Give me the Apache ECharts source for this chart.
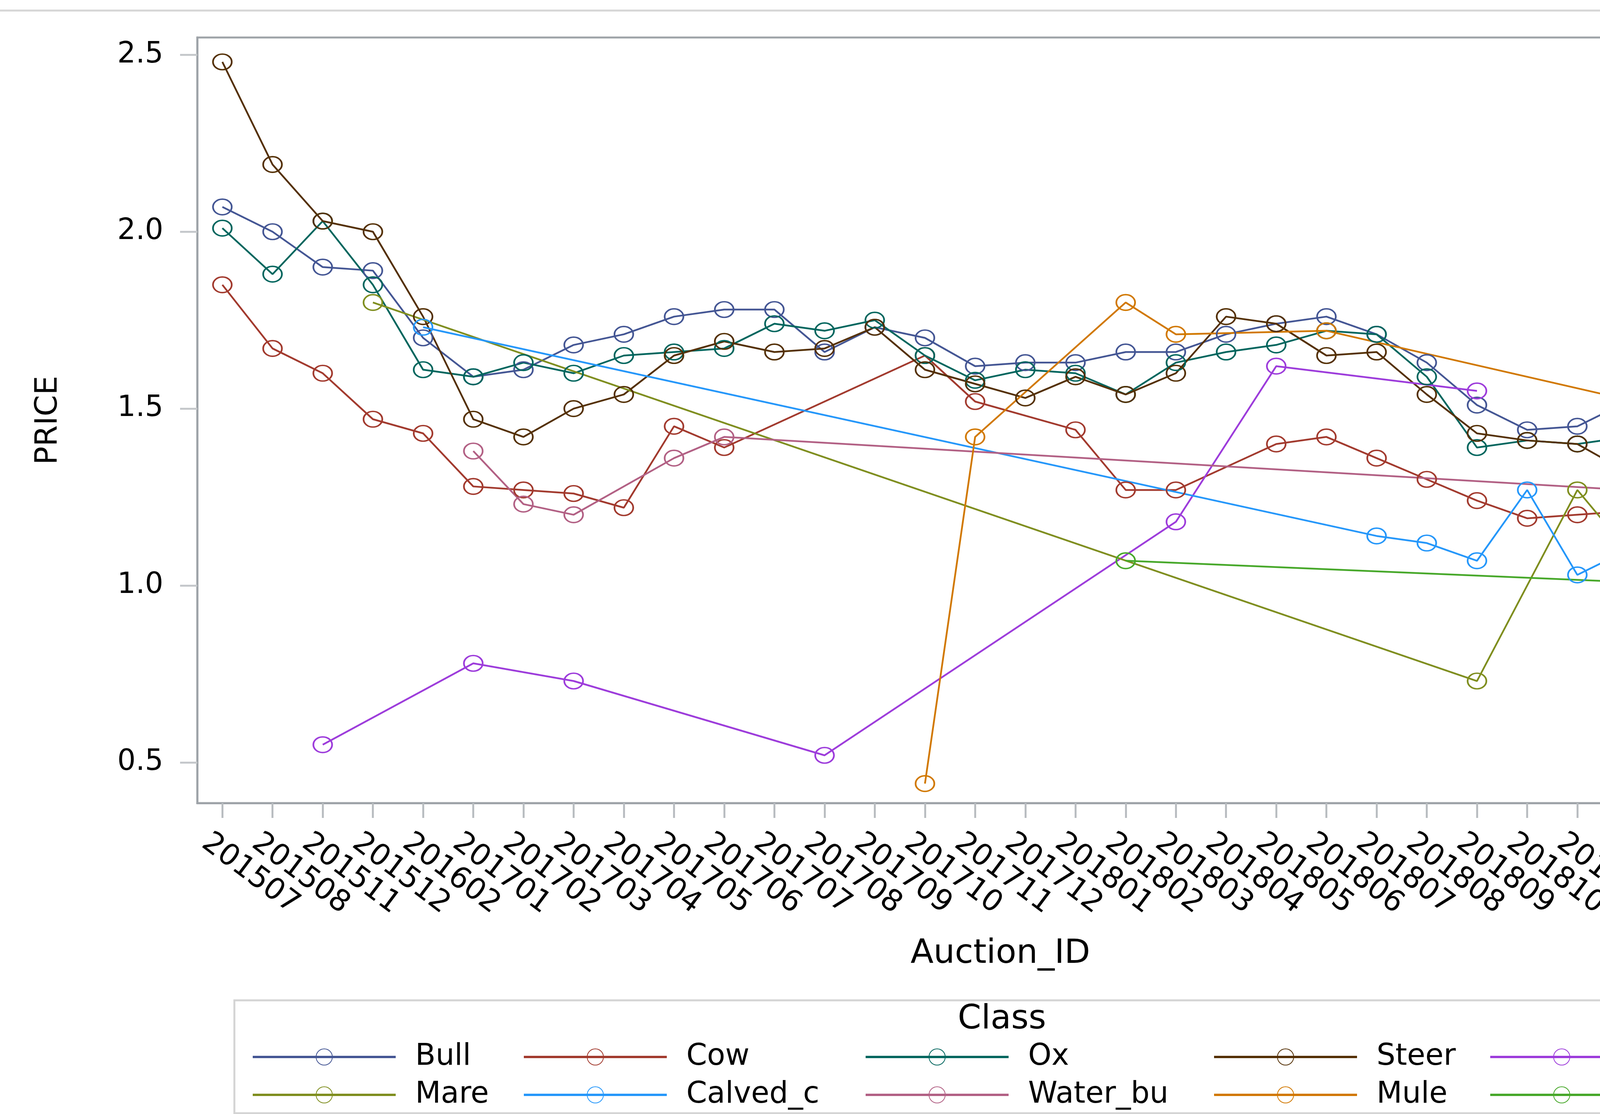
<!DOCTYPE html>
<html>
<head>
<meta charset="utf-8">
<script src="https://cdn.jsdelivr.net/npm/echarts@6/dist/echarts.min.js"></script>
<style>
html,body{margin:0;padding:0;background:#fff;}
#c{width:4786px;height:2852px;}
</style>
</head>
<body>
<div id="c"></div>
<script>
const categories = ['201507','201508','201511','201512','201602','201701','201702','201703','201704','201705','201706','201707','201708','201709','201710','201711','201712','201801','201802','201803','201804','201805','201806','201807','201808','201809','201810','201811','201812','201901','201902','201903'];

const bull = [2.07,2.00,1.90,1.89,1.70,1.59,1.61,1.68,1.71,1.76,1.78,1.78,1.66,1.73,1.70,1.62,1.63,1.63,1.66,1.66,1.71,1.74,1.76,1.71,1.63,1.51,1.44,1.45,1.52,1.47,1.43,1.46];
const cow = [1.85,1.67,1.60,1.47,1.43,1.28,1.27,1.26,1.22,1.45,1.39,null,null,null,1.65,1.52,null,1.44,1.27,1.27,null,1.40,1.42,1.36,1.30,1.24,1.19,1.20,1.21,1.11,1.15,1.12];
const ox = [2.01,1.88,2.03,1.85,1.61,1.59,1.63,1.60,1.65,1.66,1.67,1.74,1.72,1.75,1.65,1.58,1.61,1.60,1.54,1.63,1.66,1.68,1.72,1.71,1.59,1.39,1.41,1.40,1.42,1.38,1.41,1.43];
const steer = [2.48,2.19,2.03,2.00,1.76,1.47,1.42,1.50,1.54,1.65,1.69,1.66,1.67,1.73,1.61,1.57,1.53,1.59,1.54,1.60,1.76,1.74,1.65,1.66,1.54,1.43,1.41,1.40,1.32,1.38,1.35,1.29];
const horse = [null,null,0.55,null,null,0.78,null,0.73,null,null,null,null,0.52,null,null,null,null,null,null,1.18,null,1.62,null,null,null,1.55,null,null,null,null,null,null];
const mare = [null,null,null,1.80,null,null,null,null,null,null,null,null,null,null,null,null,null,null,null,null,null,null,null,null,null,0.73,null,1.27,null,0.93,1.35,null];
const calved = [null,null,null,null,1.73,null,null,null,null,null,null,null,null,null,null,null,null,null,null,null,null,null,null,1.14,1.12,1.07,1.27,1.03,1.10,1.02,1.00,1.10];
const waterBu = [null,null,null,null,null,1.38,1.23,1.20,null,1.36,1.42,null,null,null,null,null,null,null,null,null,null,null,null,null,null,null,null,null,1.27,null,null,1.02];
const mule = [null,null,null,null,null,null,null,null,null,null,null,null,null,null,0.44,1.42,null,null,1.80,1.71,null,null,1.72,null,null,null,null,null,null,null,1.46,null];
const pig = [null,null,null,null,null,null,null,null,null,null,null,null,null,null,null,null,null,null,1.07,null,null,null,null,null,null,null,null,null,1.01,0.50,0.88,null];

const yTicks = [0.5, 1.0, 1.5, 2.0, 2.5];

const seriesDefs = [
  ['Bull', bull, '#445694'],
  ['Cow', cow, '#A23A2E'],
  ['Ox', ox, '#01665E'],
  ['Steer', steer, '#543005'],
  ['Horse', horse, '#9D3CDB'],
  ['Mare', mare, '#7F8E1F'],
  ['Calved_c', calved, '#2597FA'],
  ['Water_bu', waterBu, '#B26084'],
  ['Mule', mule, '#D17800'],
  ['Pig', pig, '#47A82A']
];

const FONT = 'DejaVu Sans';

const series = seriesDefs.map(([name, data, c]) => ({
  name: name,
  type: 'line',
  data: data,
  connectNulls: true,
  color: c,
  symbol: 'circle',
  symbolSize: [48, 40],
  showAllSymbol: true,
  lineStyle: { color: c, width: 4.5 },
  itemStyle: { color: 'rgba(255,255,255,0)', borderColor: c, borderWidth: 4 },
  emphasis: { disabled: true },
  animation: false
}));

const legendCols = [
  [644, ['Bull', 'Mare']],
  [1338, ['Cow', 'Calved_c']],
  [2213, ['Ox', 'Water_bu']],
  [3105, ['Steer', 'Mule']],
  [3812, ['Horse', 'Pig']]
];

const legends = legendCols.map(([x, names]) => ({
  orient: 'vertical',
  left: x,
  top: 2668,
  itemWidth: 366,
  itemHeight: 52,
  itemGap: 21,
  padding: 0,
  selectedMode: false,
  data: names,
  lineStyle: { width: 6 },
  textStyle: { fontFamily: FONT, fontSize: 76, color: '#000', lineHeight: 76, padding: [0, 0, 0, 45] }
}));

const chart = echarts.init(document.getElementById('c'), null, { renderer: 'canvas' });
chart.setOption({
  backgroundColor: '#fff',
  animation: false,
  grid: { left: 505, right: 168, top: 96, bottom: 796, show: true, borderColor: '#9ea3a8', borderWidth: 5, backgroundColor: '#fff' },
  legend: legends,
  xAxis: {
    type: 'category',
    data: categories,
    boundaryGap: true,
    axisLine: { show: true, lineStyle: { color: '#9ea3a8', width: 5 } },
    axisTick: { show: true, alignWithLabel: true, length: 38, lineStyle: { color: '#b9bdc1', width: 5 } },
    axisLabel: { interval: 0, rotate: -37, fontFamily: FONT, fontSize: 76, color: '#000', margin: 35, align: 'left', verticalAlign: 'top', lineHeight: 147 },
    splitLine: { show: false }
  },
  yAxis: {
    type: 'value',
    min: 0.385,
    max: 2.549,
    axisLine: { show: true, lineStyle: { color: '#9ea3a8', width: 5 } },
    axisTick: { show: true, length: 44, customValues: yTicks, lineStyle: { color: '#c5c8cb', width: 5 } },
    axisLabel: { customValues: yTicks, formatter: v => v.toFixed(1), fontFamily: FONT, fontSize: 74, color: '#000', margin: 87 },
    splitLine: { show: false }
  },
  graphic: [
    { type: 'line', shape: { x1: 0, y1: 27, x2: 4786, y2: 27 }, style: { stroke: '#d6d6d6', lineWidth: 5 }, silent: true },
    { type: 'text', x: 125, y: 1076, rotation: Math.PI / 2, style: { text: 'PRICE', fontFamily: FONT, fontSize: 78, fill: '#000', textAlign: 'center', textVerticalAlign: 'middle' } },
    { type: 'text', x: 2561, y: 2443, style: { text: 'Auction_ID', fontFamily: FONT, fontSize: 86, fill: '#000', textAlign: 'center', textVerticalAlign: 'middle' } },
    { type: 'rect', shape: { x: 600, y: 2561, width: 3921, height: 289 }, style: { fill: 'none', stroke: '#d4d4d4', lineWidth: 5 }, silent: true },
    { type: 'text', x: 2565, y: 2611, style: { text: 'Class', fontFamily: FONT, fontSize: 86, fill: '#000', textAlign: 'center', textVerticalAlign: 'middle' } }
  ],
  series: series
});
</script>
</body>
</html>
